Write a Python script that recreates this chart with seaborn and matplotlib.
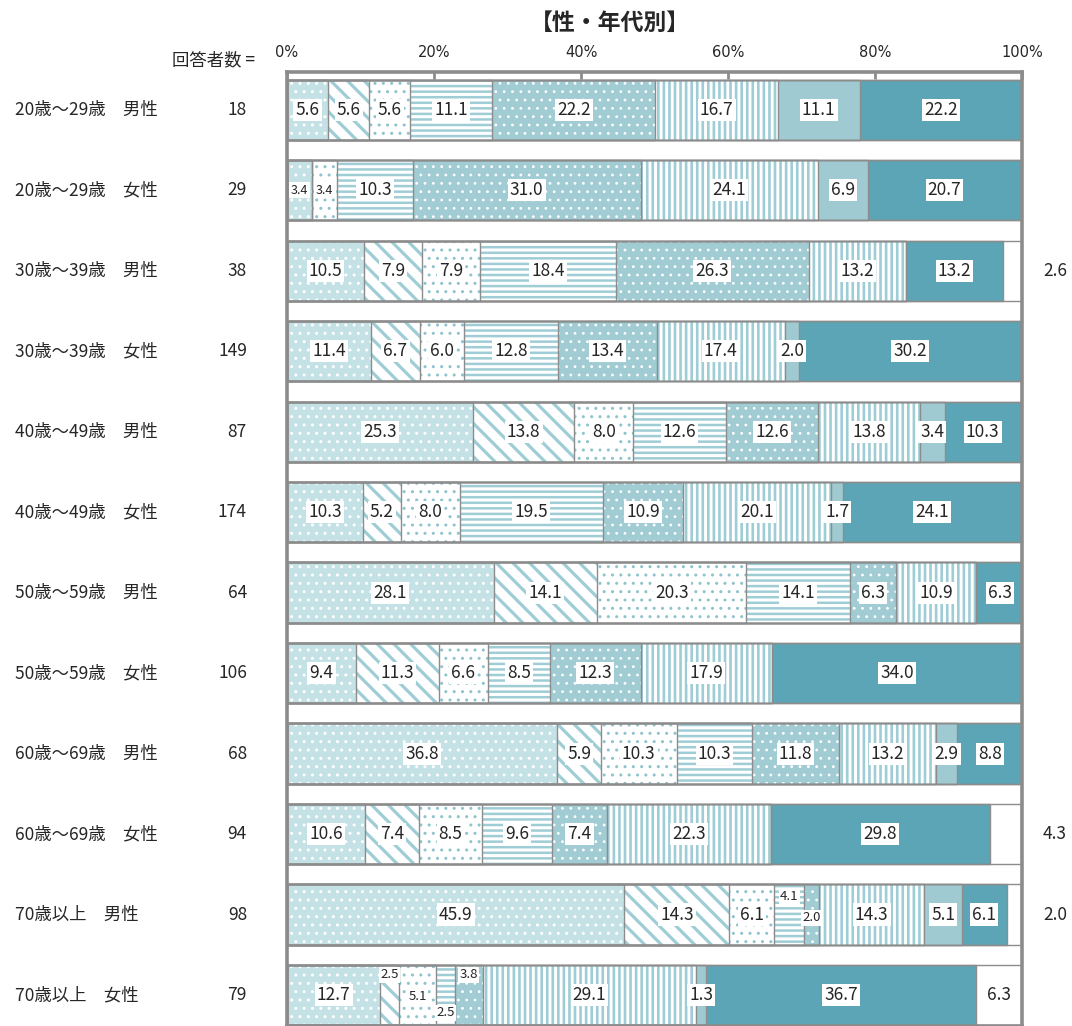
import numpy as np
import pandas as pd
import seaborn as sns
import matplotlib.pyplot as plt
import matplotlib.transforms as mtransforms

# rows (age group / sex) and number of respondents
cats = ["20歳～29歳\u3000男性", "20歳～29歳\u3000女性", "30歳～39歳\u3000男性", "30歳～39歳\u3000女性",
        "40歳～49歳\u3000男性", "40歳～49歳\u3000女性", "50歳～59歳\u3000男性", "50歳～59歳\u3000女性",
        "60歳～69歳\u3000男性", "60歳～69歳\u3000女性", "70歳以上\u3000男性", "70歳以上\u3000女性"]
n_resp = [18, 29, 38, 149, 87, 174, 64, 106, 68, 94, 98, 79]

# share of answers (%), one list per answer category
s1 = [5.6, 3.4, 10.5, 11.4, 25.3, 10.3, 28.1, 9.4, 36.8, 10.6, 45.9, 12.7]
s2 = [5.6, 0.0, 7.9, 6.7, 13.8, 5.2, 14.1, 11.3, 5.9, 7.4, 14.3, 2.5]
s3 = [5.6, 3.4, 7.9, 6.0, 8.0, 8.0, 20.3, 6.6, 10.3, 8.5, 6.1, 5.1]
s4 = [11.1, 10.3, 18.4, 12.8, 12.6, 19.5, 14.1, 8.5, 10.3, 9.6, 4.1, 2.5]
s5 = [22.2, 31.0, 26.3, 13.4, 12.6, 10.9, 6.3, 12.3, 11.8, 7.4, 2.0, 3.8]
s6 = [16.7, 24.1, 13.2, 17.4, 13.8, 20.1, 10.9, 17.9, 13.2, 22.3, 14.3, 29.1]
s7 = [11.1, 6.9, 0.0, 2.0, 3.4, 1.7, 0.0, 0.0, 2.9, 0.0, 5.1, 1.3]
s8 = [22.2, 20.7, 13.2, 30.2, 10.3, 24.1, 6.3, 34.0, 8.8, 29.8, 6.1, 36.7]
s9 = [0.0, 0.0, 2.6, 0.0, 0.0, 0.0, 0.0, 0.0, 0.0, 4.3, 2.0, 6.3]
series = [s1, s2, s3, s4, s5, s6, s7, s8, s9]

ticks = [0, 20, 40, 60, 80, 100]
tick_labels = ["0%", "20%", "40%", "60%", "80%", "100%"]

# (face, hatch, hatch colour, hatch width) for each category
styles = [
    ("#c4e1e6", "..", "white", 1.0),
    ("white", "\\\\", "#9fcdd5", 2.3),
    ("white", "..", "#8ec4cd", 1.0),
    ("white", "---", "#9fcdd5", 1.8),
    ("#a1ccd4", "..", "white", 0.8),
    ("white", "|||", "#9fcdd5", 1.9),
    ("#9fcad2", None, "#9fcad2", 0),
    ("#5ba5b6", None, "#5ba5b6", 0),
    ("white", None, "white", 0),
]

sns.set_style("white")
plt.rcParams["font.family"] = ["Noto Sans CJK JP", "DejaVu Sans"]

fig = plt.figure(figsize=(10.72, 10.26), dpi=100)
ax = fig.add_axes([0.2677, 0.0, 0.6857, 0.9298])

cum = np.cumsum(np.array(series), axis=0)
edge = "#8c8c8c"

# stacked bars: draw the cumulative totals from the back to the front
for k in range(len(series) - 1, -1, -1):
    face, hatch, hcol, hlw = styles[k]
    before = len(ax.patches)
    df = pd.DataFrame({"cat": cats, "val": cum[k]})
    sns.barplot(data=df, x="val", y="cat", order=cats, color=face, saturation=1,
                hatch=hatch, edgecolor=hcol, linewidth=0, width=0.75,
                errorbar=None, ax=ax)
    for p in ax.patches[before:]:
        if hatch and hasattr(p, "set_hatch_linewidth"):
            p.set_hatch_linewidth(hlw)

# outlines of every segment
for k in range(len(series)):
    df = pd.DataFrame({"cat": cats, "val": cum[k]})
    sns.barplot(data=df, x="val", y="cat", order=cats, fill=False, color=edge,
                edgecolor=edge, linewidth=1, width=0.75, errorbar=None, ax=ax)

ax.set_xlim(0, 100)
ax.set_ylim(11.385, -0.47)
ax.set_xlabel("")
ax.set_ylabel("")
ax.set_yticks([])
ax.xaxis.tick_top()
ax.set_xticks(ticks)
ax.set_xticklabels(tick_labels, fontsize=10.5, family=["Liberation Sans Narrow", "DejaVu Sans"])
ax.tick_params(axis="x", direction="in", length=5, width=2, color="#8c8c8c", pad=9)
for sp in ax.spines.values():
    sp.set_visible(True)
    sp.set_color("#8c8c8c")
    sp.set_linewidth(2.6)

# value labels
small = {(1, 0): 0, (1, 2): 0, (10, 3): -0.22, (10, 4): 0.04,
         (11, 1): -0.25, (11, 2): 0.02, (11, 3): 0.22, (11, 4): -0.25}
box = dict(boxstyle="square,pad=0.12", fc="white", ec="none")
for k, s in enumerate(series):
    for i, v in enumerate(s):
        if v <= 0:
            continue
        centre = cum[k][i] - v / 2
        if k == 8 and v < 5:
            ax.text(104.5, i, f"{v:.1f}", ha="center", va="center", fontsize=12.5, clip_on=False)
            continue
        if (i, k) in small:
            fs = 9.5 if i != 1 else 9
            ax.text(centre, i + small[(i, k)], f"{v:.1f}", ha="center", va="center",
                    fontsize=fs, bbox=box)
        else:
            ax.text(centre, i, f"{v:.1f}", ha="center", va="center", fontsize=12.5, bbox=box)

# row labels and respondents
tr = mtransforms.blended_transform_factory(fig.transFigure, ax.transData)
for i, (c, n) in enumerate(zip(cats, n_resp)):
    ax.text(0.014, i, c, transform=tr, ha="left", va="center", fontsize=12.5)
    ax.text(0.2304, i, str(n), transform=tr, ha="right", va="center", fontsize=12.5)

fig.text(0.238, 0.9415, "回答者数 =", ha="right", va="center", fontsize=12.5)
fig.text(0.569, 0.977, "【性・年代別】", ha="center", va="center", fontsize=16.5, fontweight="bold")

fig.savefig("out.png", dpi=100)
